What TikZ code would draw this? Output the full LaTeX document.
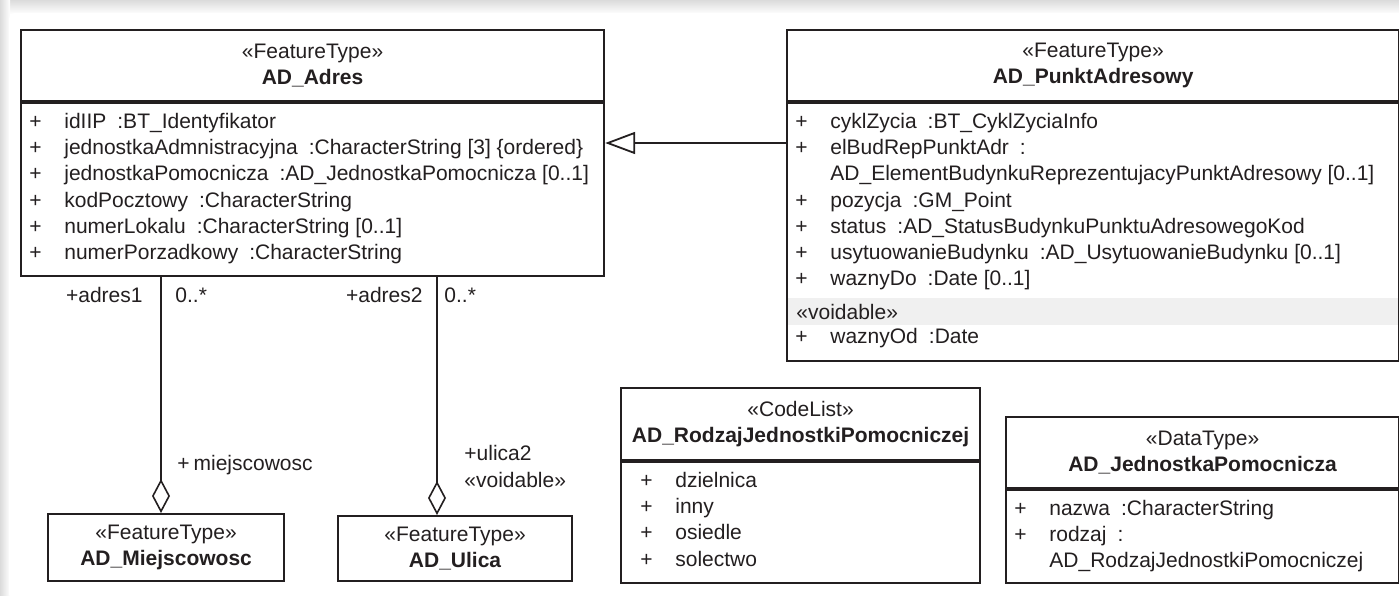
\documentclass[tikz,border=0pt]{standalone}
\usepackage{fontspec}
\setmainfont{Liberation Sans}
\usetikzlibrary{positioning}
\usetikzlibrary{arrows.meta}
\definecolor{ink}{RGB}{35,31,32}
\newcommand{\umlfont}{\fontsize{10.5pt}{13.15pt}\selectfont}
\newcommand{\pl}[1]{\rule{0pt}{8.2pt}\makebox[10pt][c]{+}\hspace{9.5pt}#1}
\newcommand{\cont}[1]{\rule{0pt}{8.2pt}\hspace{19.5pt}#1}
\newcommand{\cl}{\hspace{5.5pt}:}

\begin{document}
\begin{tikzpicture}[x=0.5pt, y=-0.5pt, every node/.style={text=ink},
  head/.style={draw=ink, line width=1.1pt, inner sep=0pt, align=center, font=\umlfont, anchor=north west},
  body/.style={draw=ink, line width=1.1pt, inner sep=0pt},
  attr/.style={inner sep=0pt, align=left, font=\umlfont},
  role/.style={inner sep=0pt, font=\umlfont},
  gen/.style={draw=ink, line width=0.9pt, -{Triangle[open, length=15pt, width=11pt]}},
  aggr/.style={draw=ink, line width=0.8pt, -{Diamond[open, length=17pt, width=9pt]}}]
		\useasboundingbox (0,0) rectangle (1399,595);
		% frame shadow
		\shade[top color=black!14, bottom color=white] (0,0) rectangle (1399,14);
		\shade[left color=black!14, right color=white] (0,0) rectangle (10,595);
		\fill[white, rounded corners=3pt] (9,13) rectangle (1405,600);

		% AD_Adres
		\node (adresH) [head, minimum width=291.5pt, minimum height=35.5pt] at (20,29) {«FeatureType»\\\textbf{AD\_Adres}};
		\node (adresB) [body, minimum width=291.5pt, minimum height=86.5pt, below=0pt of adresH.south west, anchor=north west] {};
		\node (adresT) [attr, below right=4.55pt and 2.5pt of adresB.north west] {\pl{idIIP\cl BT\_Identyfikator}\\
			\pl{jednostkaAdmnistracyjna\cl CharacterString [3] \{ordered\}}\\
			\pl{jednostkaPomocnicza\cl AD\_JednostkaPomocnicza [0..1]}\\
			\pl{kodPocztowy\cl CharacterString}\\
			\pl{numerLokalu\cl CharacterString [0..1]}\\
			\pl{numerPorzadkowy\cl CharacterString}};

		% AD_PunktAdresowy
		\node (punktH) [head, minimum width=306pt, minimum height=35.5pt] at (786,29) {«FeatureType»\\\textbf{AD\_PunktAdresowy}};
		\node (punktB) [body, minimum width=306pt, minimum height=129pt, below=0pt of punktH.south west, anchor=north west] {};
		\node (punktT) [attr, below right=4.55pt and 2.5pt of punktB.north west] {\pl{cyklZycia\cl BT\_CyklZyciaInfo}\\
			\pl{elBudRepPunktAdr\cl}\\
			\cont{AD\_ElementBudynkuReprezentujacyPunktAdresowy [0..1]}\\
			\pl{pozycja\cl GM\_Point}\\
			\pl{status\cl AD\_StatusBudynkuPunktuAdresowegoKod}\\
			\pl{usytuowanieBudynku\cl AD\_UsytuowanieBudynku [0..1]}\\
			\pl{waznyDo\cl Date [0..1]}};
		\node (voidB) [fill=black!6, inner sep=0pt, minimum width=305pt, minimum height=13.5pt, anchor=north west] at (788,298) {};
		\node (voidT) [role, right=4pt of voidB.west, anchor=west] {«voidable»};
		\node (punktV) [attr, below right=0.55pt and 1.5pt of voidB.south west] {\pl{waznyOd\cl Date}};

		% AD_Miejscowosc, AD_Ulica
		\node (miej) [head, minimum width=118pt, minimum height=33.5pt] at (47,513) {«FeatureType»\\\textbf{AD\_Miejscowosc}};
		\node (ulica) [head, minimum width=117pt, minimum height=32.5pt] at (337,515) {«FeatureType»\\\textbf{AD\_Ulica}};

		% AD_RodzajJednostkiPomocniczej
		\node (rodzH) [head, minimum width=179.5pt, minimum height=36pt] at (620,387) {«CodeList»\\\textbf{AD\_RodzajJednostkiPomocniczej}};
		\node (rodzB) [body, minimum width=179.5pt, minimum height=60.5pt, below=0pt of rodzH.south west, anchor=north west] {};
		\node (rodzT) [attr, below right=4.55pt and 8pt of rodzB.north west] {\pl{dzielnica}\\\pl{inny}\\\pl{osiedle}\\\pl{solectwo}};

		% AD_JednostkaPomocnicza
		\node (jednH) [head, minimum width=196.5pt, minimum height=35.5pt] at (1005,416) {«DataType»\\\textbf{AD\_JednostkaPomocnicza}};
		\node (jednB) [body, minimum width=196.5pt, minimum height=46.5pt, below=0pt of jednH.south west, anchor=north west] {};
		\node (jednT) [attr, below right=4.55pt and 2.5pt of jednB.north west] {\pl{nazwa\cl CharacterString}\\
			\pl{rodzaj\cl}\\
			\cont{AD\_RodzajJednostkiPomocniczej}};

		% connectors
		\coordinate (genY) at (0,143);
		\coordinate (agg1) at (161,0);
		\coordinate (agg2) at (437,0);
		\draw[gen] (punktB.west |- genY) -- (adresB.east |- genY);
		\draw[aggr] (agg1 |- adresB.south) -- (agg1 |- miej.north);
		\draw[aggr] (agg2 |- adresB.south) -- (agg2 |- ulica.north);

		% role names
		\node (adres1) [role, anchor=base east] at (143,302.5) {+adres1};
		\node (mult1) [role, anchor=base west] at (175,302.5) {0..*};
		\node (miejR) [role, anchor=base west] at (177,470.5) {+\hspace{2pt}miejscowosc};
		\node (adres2) [role, anchor=base east] at (423,302.5) {+adres2};
		\node (mult2) [role, anchor=base west] at (444,302.5) {0..*};
		\node (ulicaR) [role, align=left, anchor=north west] at (464,444) {\rule{0pt}{8.2pt}+ulica2\\«voidable»};
\end{tikzpicture}
\end{document}
